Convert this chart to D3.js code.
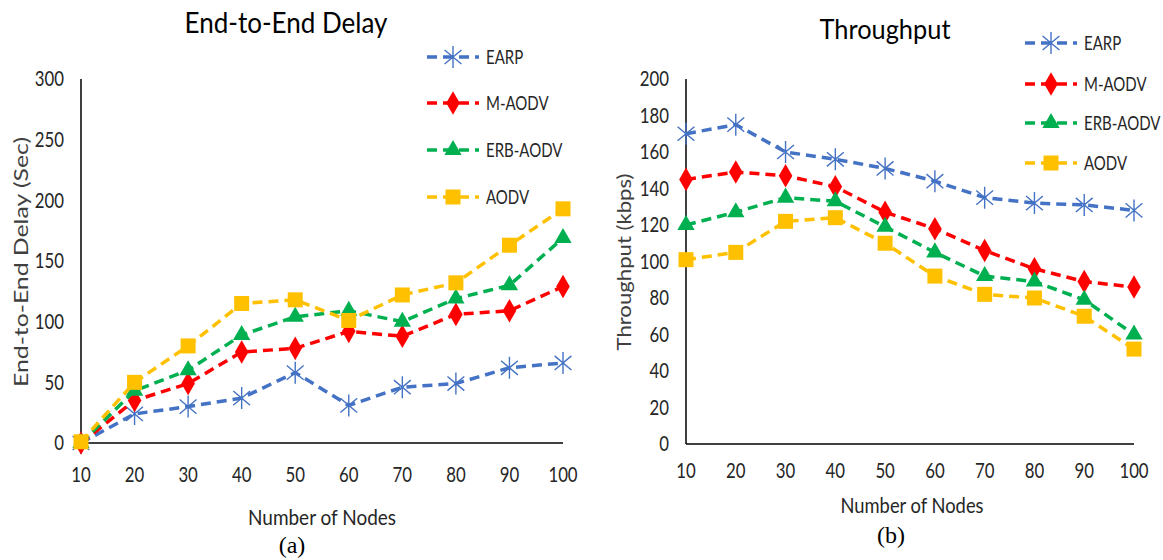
<!DOCTYPE html>
<html>
<head>
<meta charset="utf-8">
<script src="https://cdn.jsdelivr.net/npm/d3@7"></script>
<style>
  body { margin: 0; background: #fff; }
  svg { display: block; }
</style>
</head>
<body>
<svg id="chart" width="1163" height="560"></svg>
<script>
// values
const nodes = [10, 20, 30, 40, 50, 60, 70, 80, 90, 100];
const seriesNames = ["EARP", "M-AODV", "ERB-AODV", "AODV"];

const delayEARP = [0, 24, 30, 37, 58, 31, 46, 49, 62, 66];
const delayMAODV = [0, 35, 49, 75, 78, 92, 88, 106, 109, 129];
const delayERB = [0, 43, 60, 89, 104, 109, 100, 119, 130, 169];
const delayAODV = [1, 50, 80, 115, 118, 101, 122, 132, 163, 193];

const thrEARP = [170, 175, 160, 156, 151, 144, 135, 132, 131, 128];
const thrMAODV = [145, 149, 147, 141, 127, 118, 106, 96, 89, 86];
const thrERB = [120, 127, 135, 133, 119, 105, 92, 89, 79, 60];
const thrAODV = [101, 105, 122, 124, 110, 92, 82, 80, 70, 52];

const delayTicks = [0, 50, 100, 150, 200, 250, 300];
const thrTicks = [0, 20, 40, 60, 80, 100, 120, 140, 160, 180, 200];

const colors = ["#4472C4", "#FF0000", "#00B050", "#FFC000"];
const markers = ["star", "diamond", "triangle", "square"];
const sans = "Lato, 'Open Sans', sans-serif";

const svg = d3.select("#chart");

function deg2rad(deg) {
	return deg / 180 * Math.PI;
}

// narrow text: Lato squeezed horizontally (reference font is a condensed one)
function label(g, x, y, txt, size, anchor, squeeze) {
	return g.append("text")
		.attr("transform", "translate(" + x + "," + y + ") scale(" + squeeze + ",1)")
		.attr("dy", "0.35em")
		.attr("text-anchor", anchor)
		.attr("font-family", sans).attr("font-size", size)
		.attr("fill", "#262626")
		.text(txt);
}

function markerPath(type) {
	if (type === "star") {
		let r = 11;
		let d = "M0," + (-r) + "L0," + r;
		for (let a of [40, 140]) {
			let dx = Math.cos(deg2rad(a)) * r, dy = Math.sin(deg2rad(a)) * r;
			d += "M" + (-dx) + "," + (-dy) + "L" + dx + "," + dy;
		}
		return d;
	}
	if (type === "diamond") return d3.symbol(d3.symbolDiamond, 160)();
	if (type === "triangle") return d3.symbol(d3.symbolTriangle, 130)();
	return d3.symbol(d3.symbolSquare, 225)();
}

function drawMarker(g, type, color, x, y) {
	let p = g.append("path")
		.attr("d", markerPath(type))
		.attr("transform", "translate(" + x + "," + y + ")");
	if (type === "star") {
		p.style("fill", "none").style("stroke", color).style("stroke-width", 1.4);
	} else {
		p.style("fill", color).style("stroke", "none");
	}
}

function drawChart(opt) {
	let g = svg.append("g");
	let x = d3.scaleLinear().domain([10, 100]).range([opt.x0, opt.x1]);
	let y = d3.scaleLinear().domain([0, opt.ymax]).range([opt.y0, opt.y1]);

	// axis lines
	g.append("line").attr("x1", opt.x0).attr("x2", opt.x0).attr("y1", y(opt.ymax)).attr("y2", y(0))
		.style("stroke", "#000").style("stroke-width", 1.5);
	g.append("line").attr("x1", opt.x0).attr("x2", opt.x1).attr("y1", y(0)).attr("y2", y(0))
		.style("stroke", "#000").style("stroke-width", 1.5);

	// tick labels
	opt.ticks.forEach(d => label(g, opt.yLabelX, y(d), d, 21, "end", 0.8));
	nodes.forEach(d => label(g, x(d), opt.xLabelY, d, 21, "middle", 0.8));

	// series
	let line = d3.line().x((d, i) => x(nodes[i])).y(d => y(d));
	opt.series.forEach(function (vals, s) {
		g.append("path").datum(vals).attr("d", line)
			.style("fill", "none").style("stroke", colors[s]).style("stroke-width", 3.5)
			.style("stroke-dasharray", "10,6");
		vals.forEach(function (v, i) {
			drawMarker(g, markers[s], colors[s], x(nodes[i]), y(v));
		});
	});

	// legend
	seriesNames.forEach(function (name, s) {
		let ly = opt.legY[s];
		g.append("line").attr("x1", opt.legX).attr("x2", opt.legX + 52).attr("y1", ly).attr("y2", ly)
			.style("stroke", colors[s]).style("stroke-width", 3.5).style("stroke-dasharray", "10,6");
		drawMarker(g, markers[s], colors[s], opt.legX + 26, ly);
		label(g, opt.legX + 59, ly, name, 20, "start", 0.75);
	});

	// titles
	g.append("text").attr("x", opt.titleX).attr("y", opt.titleY)
		.attr("text-anchor", "middle").attr("font-family", sans).attr("font-size", opt.titleSize)
		.attr("textLength", opt.titleW).attr("lengthAdjust", "spacingAndGlyphs")
		.attr("fill", "#000").text(opt.title);
	g.append("text").attr("x", opt.xTitleX).attr("y", opt.xTitleY)
		.attr("text-anchor", "middle").attr("font-family", sans).attr("font-size", 22)
		.attr("textLength", opt.xTitleW).attr("lengthAdjust", "spacingAndGlyphs")
		.attr("fill", "#262626").text("Number of Nodes");
	g.append("text")
		.attr("transform", "translate(" + opt.yTitleX + "," + opt.yTitleY + ") rotate(-90)")
		.attr("text-anchor", "middle").attr("font-family", sans)
		.attr("font-size", 20).attr("fill", "#404040")
		.attr("textLength", opt.yTitleW).attr("lengthAdjust", "spacingAndGlyphs")
		.text(opt.yTitle);
	g.append("text").attr("x", opt.capX).attr("y", opt.capY)
		.attr("text-anchor", "middle").attr("font-family", "'Liberation Serif', serif").attr("font-size", 24)
		.attr("fill", "#000").text(opt.caption);
}

drawChart({
	x0: 81, x1: 563, y0: 443, y1: 79, ymax: 300, ticks: delayTicks,
	yLabelX: 64, xLabelY: 475,
	series: [delayEARP, delayMAODV, delayERB, delayAODV],
	legX: 427, legY: [57, 103, 150, 197],
	title: "End-to-End Delay", titleX: 286, titleY: 33, titleSize: 29, titleW: 203,
	xTitleX: 322, xTitleY: 525, xTitleW: 148,
	yTitle: "End-to-End Delay (Sec)", yTitleX: 28, yTitleY: 262, yTitleW: 250,
	caption: "(a)", capX: 292, capY: 553
});

drawChart({
	x0: 686, x1: 1134, y0: 444, y1: 79, ymax: 200, ticks: thrTicks,
	yLabelX: 669, xLabelY: 471,
	series: [thrEARP, thrMAODV, thrERB, thrAODV],
	legX: 1025, legY: [43, 84, 123, 163],
	title: "Throughput", titleX: 885, titleY: 39, titleSize: 26, titleW: 131,
	xTitleX: 912, xTitleY: 513, xTitleW: 143,
	yTitle: "Throughput (kbps)", yTitleX: 631, yTitleY: 262, yTitleW: 177,
	caption: "(b)", capX: 891, capY: 543
});
</script>
</body>
</html>
